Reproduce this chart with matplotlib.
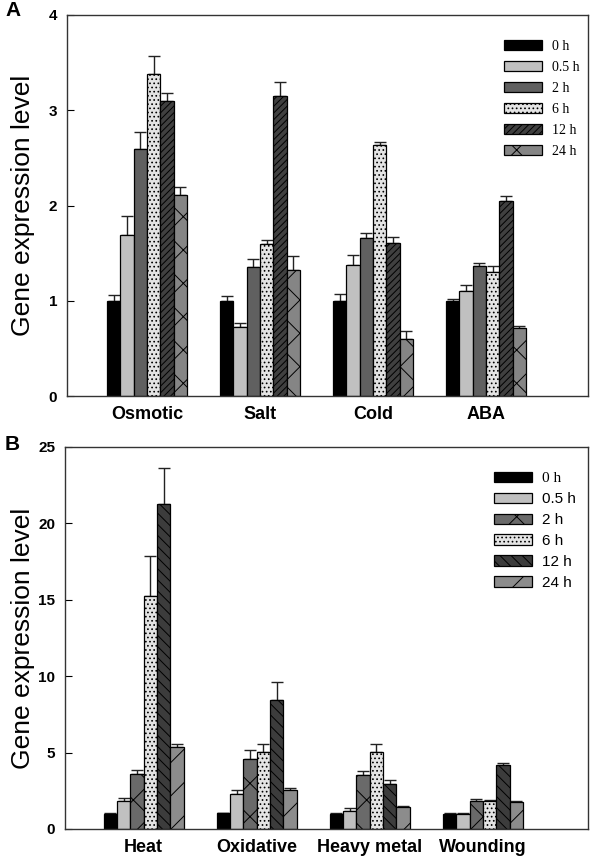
import numpy as np
import matplotlib
matplotlib.use("Agg")
import matplotlib.pyplot as plt

plt.rcParams['font.family'] = ['Liberation Sans', 'DejaVu Sans']
plt.rcParams['hatch.linewidth'] = 0.7

# time points shown in both panels
times = ['0 h', '0.5 h', '2 h', '6 h', '12 h', '24 h']

# panel A: rows = time points, columns = treatments
a_cats = ['Osmotic', 'Salt', 'Cold', 'ABA']
a_means = [
    [1.00, 1.00, 1.00, 1.00],
    [1.69, 0.72, 1.38, 1.10],
    [2.59, 1.35, 1.66, 1.36],
    [3.38, 1.60, 2.63, 1.30],
    [3.10, 3.15, 1.61, 2.05],
    [2.11, 1.32, 0.60, 0.71],
]
a_errs = [
    [0.06, 0.05, 0.07, 0.02],
    [0.20, 0.05, 0.10, 0.07],
    [0.18, 0.09, 0.05, 0.04],
    [0.19, 0.04, 0.04, 0.06],
    [0.08, 0.15, 0.06, 0.05],
    [0.08, 0.15, 0.08, 0.02],
]

# panel B
b_cats = ['Heat', 'Oxidative', 'Heavy metal', 'Wounding']
b_means = [
    [1.00, 1.02, 1.00, 1.00],
    [1.83, 2.31, 1.16, 0.98],
    [3.62, 4.59, 3.54, 1.81],
    [15.28, 5.02, 5.04, 1.86],
    [21.24, 8.41, 2.93, 4.21],
    [5.37, 2.55, 1.46, 1.77],
]
b_errs = [
    [0.04, 0.05, 0.05, 0.03],
    [0.20, 0.23, 0.19, 0.07],
    [0.22, 0.61, 0.28, 0.16],
    [2.58, 0.53, 0.53, 0.04],
    [2.38, 1.24, 0.26, 0.13],
    [0.22, 0.11, 0.03, 0.04],
]

# fill colours and hatches per time point
a_colors = ['#000000', '#c0c0c0', '#606060', '#e4e4e4', '#404040', '#858585']
a_hatches = [None, None, None, '....', '/////', 'x']
b_colors = ['#000000', '#c0c0c0', '#6a6a6a', '#e4e4e4', '#3c3c3c', '#8c8c8c']
b_hatches = [None, None, 'x', '....', '\\\\\\', '/']

width = 0.118


def draw_panel(ax, cats, means, errs, colors, hatches, ylim, yticks, xlim):
    x = np.arange(len(cats))
    for i in range(len(times)):
        pos = x + (i - 2.5) * width
        ax.bar(pos, means[i], width, color=colors[i], edgecolor='black',
               linewidth=0.9, hatch=hatches[i], label=times[i], zorder=2)
        ax.errorbar(pos, means[i], yerr=[np.zeros(len(cats)), errs[i]],
                    fmt='none', ecolor='#222222', elinewidth=1.0,
                    capsize=4.3, capthick=1.0, zorder=1)
    ax.set_xlim(*xlim)
    ax.set_ylim(*ylim)
    ax.set_yticks(yticks)
    ax.set_xticks(x)
    ax.set_xticklabels(cats, fontsize=13, fontweight='bold')
    ax.tick_params(axis='x', length=0, pad=7)
    ax.tick_params(axis='y', direction='in', length=5, pad=7, labelsize=11)
    for lab in ax.get_yticklabels():
        lab.set_fontweight('bold')
    for sp in ax.spines.values():
        sp.set_linewidth(1.0)
        sp.set_color('#333333')
    ax.set_ylabel('Gene expression level', fontsize=19)


figure = plt.figure(figsize=(6.0, 8.6), dpi=100)

axA = figure.add_axes([67 / 600, 1 - 396 / 860, 521 / 600, 381 / 860])
draw_panel(axA, a_cats, a_means, a_errs, a_colors, a_hatches,
           (0, 4), [0, 1, 2, 3, 4], (-0.708, 3.903))
axA.yaxis.set_label_coords(-(67 - 35) / 521, 0.5)
legA = axA.legend(loc='upper left', bbox_to_anchor=(0.839, 0.935),
                  frameon=False, borderpad=0, borderaxespad=0,
                  handlelength=2.75, handleheight=0.75, handletextpad=0.7,
                  labelspacing=0.58,
                  prop={'family': 'Liberation Serif', 'size': 10})

axB = figure.add_axes([65 / 600, 1 - 829 / 860, 523 / 600, 382 / 860])
draw_panel(axB, b_cats, b_means, b_errs, b_colors, b_hatches,
           (0, 25), [0, 5, 10, 15, 20, 25], (-0.696, 3.93))
axB.yaxis.set_label_coords(-(65 - 35) / 523, 0.5)
legB = axB.legend(loc='upper left', bbox_to_anchor=(0.82, 0.935),
                  frameon=False, borderpad=0, borderaxespad=0,
                  handlelength=2.5, handleheight=0.68, handletextpad=0.65,
                  labelspacing=0.45, prop={'size': 11})
legB.get_texts()[0].set_fontfamily('Liberation Serif')

figure.text(5 / 600, 1 - 11 / 860, 'A', fontsize=15, fontweight='bold',
            va='center', ha='left')
figure.text(5 / 600, 1 - 444 / 860, 'B', fontsize=15, fontweight='bold',
            va='center', ha='left')

figure.savefig('out.png', dpi=100)
